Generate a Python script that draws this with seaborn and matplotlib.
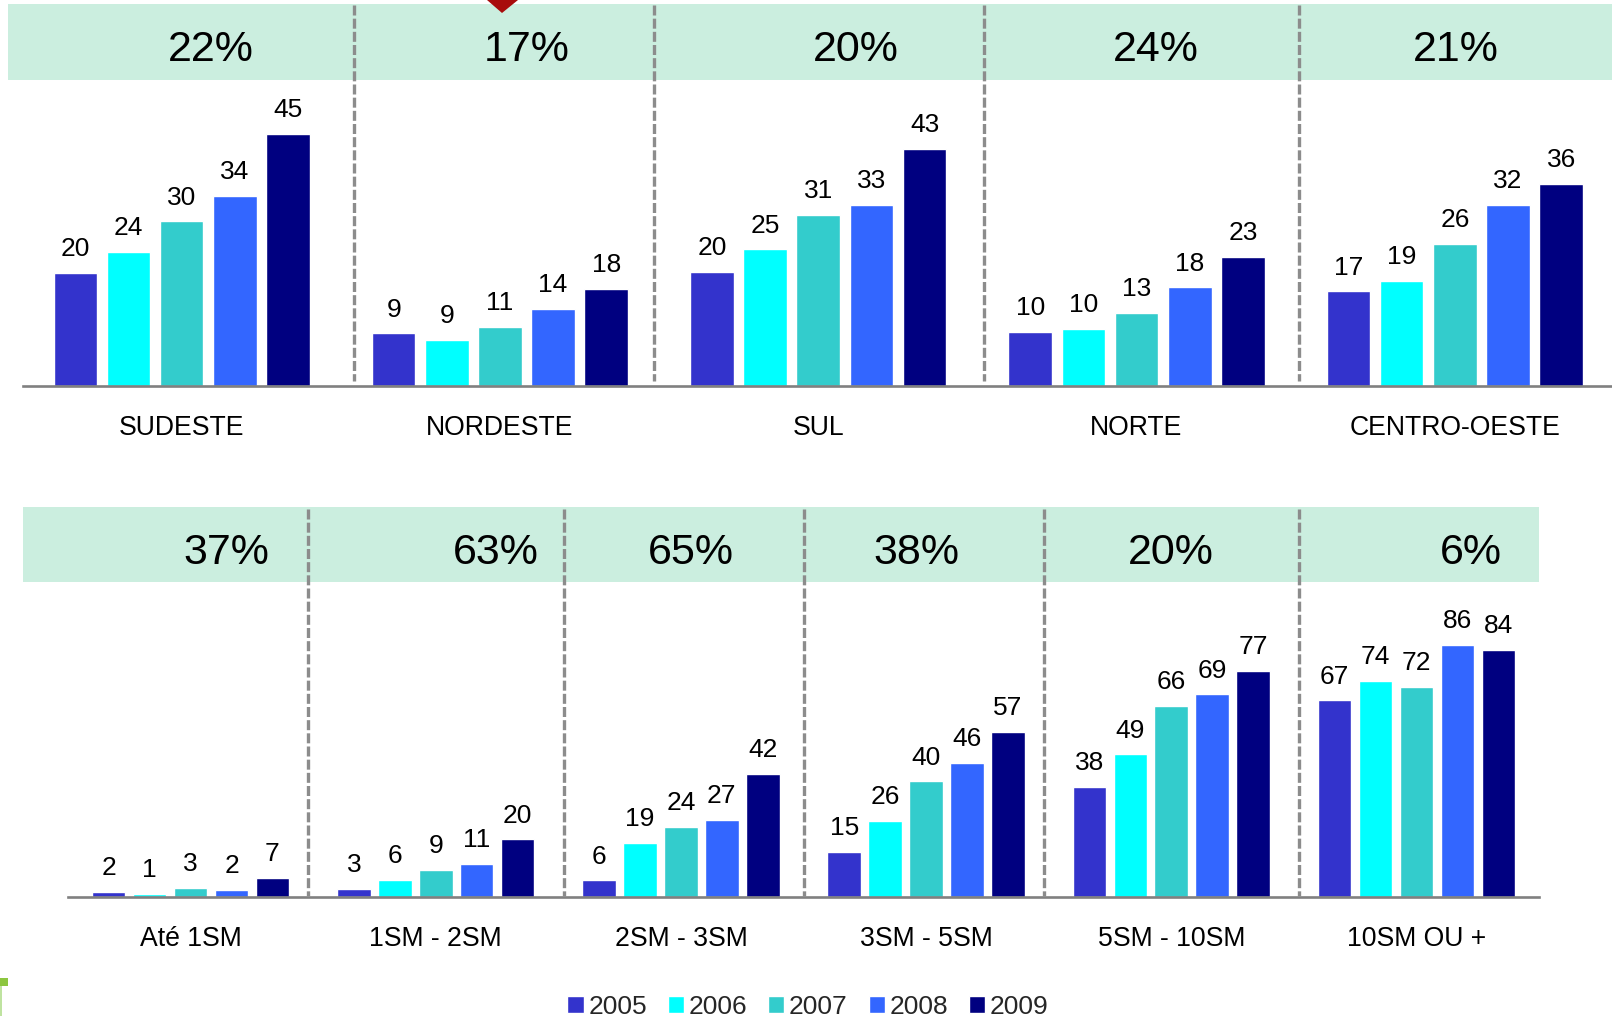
import numpy as np
import pandas as pd
import matplotlib.pyplot as plt
import seaborn as sns
from matplotlib.lines import Line2D
from matplotlib.patches import Polygon, Rectangle

sns.set_theme(style="white")
plt.rcParams["font.family"] = ["Liberation Sans", "DejaVu Sans"]

anos = ["2005", "2006", "2007", "2008", "2009"]
cores = ["#3333CC", "#00FFFF", "#33CCCC", "#3366FF", "#000080"]

regioes = ["SUDESTE", "NORDESTE", "SUL", "NORTE", "CENTRO-OESTE"]
regioes_alturas = [
    [20.2, 24.0, 29.4, 33.9, 45.0],
    [9.4, 8.3, 10.6, 13.7, 17.4],
    [20.4, 24.4, 30.6, 32.4, 42.4],
    [9.6, 10.2, 13.0, 17.6, 23.1],
    [16.9, 18.7, 25.4, 32.4, 36.1],
]
regioes_rotulos = [
    [20, 24, 30, 34, 45],
    [9, 9, 11, 14, 18],
    [20, 25, 31, 33, 43],
    [10, 10, 13, 18, 23],
    [17, 19, 26, 32, 36],
]
regioes_pct = ["22%", "17%", "20%", "24%", "21%"]

faixas = ["Até 1SM", "1SM - 2SM", "2SM - 3SM", "3SM - 5SM", "5SM - 10SM", "10SM OU +"]
faixas_alturas = [
    [1.6, 0.9, 2.9, 2.2, 6.3],
    [2.6, 5.6, 9.2, 11.0, 19.5],
    [5.5, 18.4, 23.7, 26.2, 41.8],
    [15.2, 25.8, 39.3, 45.6, 56.3],
    [37.5, 48.5, 65.1, 69.0, 77.1],
    [66.9, 73.6, 71.5, 86.0, 84.2],
]
faixas_rotulos = [
    [2, 1, 3, 2, 7],
    [3, 6, 9, 11, 20],
    [6, 19, 24, 27, 42],
    [15, 26, 40, 46, 57],
    [38, 49, 66, 69, 77],
    [67, 74, 72, 86, 84],
]
faixas_pct = ["37%", "63%", "65%", "38%", "20%", "6%"]

W, H = 1612, 1016
VERDE = "#CBEEDF"
CINZA = "#808080"

fig = plt.figure(figsize=(W / 100, H / 100), dpi=100)


def fx(x):
    return x / W


def fy(y):
    return 1 - y / H


def monta(grupos, alturas):
    linhas = []
    for g, vals in zip(grupos, alturas):
        for a, v in zip(anos, vals):
            linhas.append({"grupo": g, "ano": a, "valor": v})
    return pd.DataFrame(linhas)


def painel(x0, x1, base, esc, ymax, grupos, alturas, rotulos, legenda=False):
    alt = esc * ymax
    ax = fig.add_axes([fx(x0), fy(base), (x1 - x0) / W, alt / H])
    ax.patch.set_alpha(0)
    df = monta(grupos, alturas)
    sns.barplot(data=df, x="grupo", y="valor", hue="ano", palette=cores, saturation=1,
                width=0.835, gap=0.18, legend=legenda, ax=ax)
    for i, cont in enumerate(ax.containers):
        ax.bar_label(cont, labels=[r[i] for r in rotulos], padding=8.5, fontsize=19, color="black")
    ax.set_xlim(-0.5, len(grupos) - 0.5)
    ax.set_ylim(0, ymax)
    ax.set_xlabel("")
    ax.set_ylabel("")
    ax.set_yticks([])
    ax.tick_params(axis="x", length=0, pad=21, labelsize=19.2, labelcolor="black")
    sns.despine(ax=ax, left=True)
    ax.spines["bottom"].set_color(CINZA)
    ax.spines["bottom"].set_linewidth(1.9)
    return ax


def faixa(x0, x1, y0, y1):
    fig.add_artist(Rectangle((fx(x0), fy(y1)), (x1 - x0) / W, (y1 - y0) / H, transform=fig.transFigure,
                             facecolor=VERDE, edgecolor="none", zorder=-1))


def tracos(xs, y0, y1):
    for x in xs:
        fig.add_artist(Line2D([fx(x), fx(x)], [fy(y0), fy(y1)], transform=fig.transFigure, color="#8C8C8C",
                              lw=2.4, ls=(0, (3.0, 0.95)), zorder=2))


def percentuais(textos, xs, y):
    for t, x in zip(textos, xs):
        fig.text(fx(x), fy(y), t, ha="center", va="center", fontsize=31, color="black", zorder=3)


# faixas verdes ficam atras dos eixos
faixa(8, 1612, 4, 80)
faixa(23, 1539, 507, 582)

painel(22.5, 1614, 386, 5.6, 50, regioes, regioes_alturas, regioes_rotulos)
ax2 = painel(68, 1539, 896.5, 2.93, 100, faixas, faixas_alturas, faixas_rotulos, legenda=True)

sns.move_legend(ax2, "center", bbox_to_anchor=(fx(808), fy(1007)), bbox_transform=fig.transFigure,
                ncol=5, frameon=False, title=None, fontsize=19, handlelength=0.62, handleheight=0.62,
                handletextpad=0.17, columnspacing=0.79, borderpad=0)

tracos([354, 654, 984, 1299], 5, 381)
tracos([308, 564, 804, 1044, 1299], 509, 896)

percentuais(regioes_pct, [211, 527, 856, 1156, 1456], 50)
percentuais(faixas_pct, [226, 496, 691, 916, 1171, 1471], 553)

# detalhes que sobram do slide original
fig.add_artist(Polygon([(fx(487), fy(0)), (fx(518), fy(0)), (fx(502), fy(13))], closed=True,
                       transform=fig.transFigure, facecolor="#A80C0C", edgecolor="none", zorder=2))
fig.add_artist(Rectangle((fx(0), fy(986)), 8 / W, 8 / H, transform=fig.transFigure,
                         facecolor="#8CC63F", edgecolor="none", zorder=2))
fig.add_artist(Rectangle((fx(0), fy(1016)), 2 / W, 30 / H, transform=fig.transFigure,
                         facecolor="#BFE3A0", edgecolor="none", zorder=2))

plt.savefig("out.png", dpi=100)
